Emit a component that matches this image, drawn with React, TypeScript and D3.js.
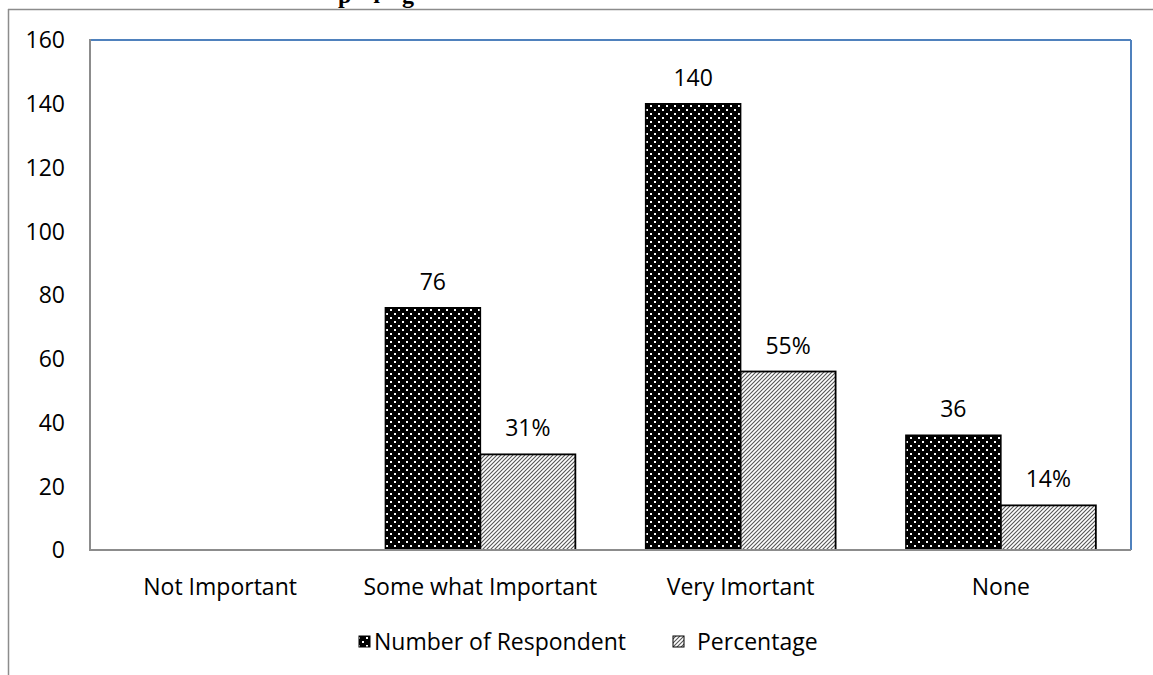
import React from "react";
import * as d3 from "d3";

const categories = ["Not Important", "Some what Important", "Very Imortant", "None"];
const respondents = [0, 76, 140, 36];
const respondentLabels = ["", "76", "140", "36"];
const percentValues = [0, 30, 56, 14];
const percentLabels = ["", "31%", "55%", "14%"];
const yTicks = [0, 20, 40, 60, 80, 100, 120, 140, 160];
const seriesNames = ["Number of Respondent", "Percentage"];

const W = 1153;
const H = 675;
const left = 90;
const right = 1131;
const top = 40;
const bottom = 550;
const FONT = "'Open Sans', 'Noto Sans', sans-serif";
const FS = 23;

export default function App() {
  const x0 = d3.scaleBand<string>().domain(categories).range([left, right]).paddingInner(0).paddingOuter(0);
  const x1 = d3
    .scaleBand<string>()
    .domain(seriesNames)
    .range([0, x0.bandwidth()])
    .paddingOuter(0.37)
    .paddingInner(0);
  const y = d3.scaleLinear().domain([0, 160]).range([bottom, top]);

  return (
    <svg
      width={W}
      height={H}
      style={{ position: "absolute", left: 0, top: 0, background: "#fff" }}
      fontFamily={FONT}
    >
      <defs>
        <pattern id="dots" width={8} height={8} patternUnits="userSpaceOnUse">
          <rect width={8} height={8} fill="#000" />
          <rect x={2} y={1} width={2} height={2} fill="#fff" />
          <rect x={6} y={5} width={2} height={2} fill="#fff" />
        </pattern>
        <pattern id="hatch" width={4} height={4} patternUnits="userSpaceOnUse">
          <rect width={4} height={4} fill="#fff" />
          <path d="M-1,5 L5,-1 M-1,1 L1,-1 M3,5 L5,3" stroke="#555" strokeWidth={1.1} />
        </pattern>
      </defs>

      {/* partially visible title */}
      <text
        x={338}
        y={3}
        fontFamily="'Liberation Serif', 'DejaVu Serif', serif"
        fontWeight="bold"
        fontSize={24}
        letterSpacing={22}
        fill="#000"
      >
        pig
      </text>

      {/* outer frame */}
      <line x1={8} y1={9.5} x2={W} y2={9.5} stroke="#8c8c8c" strokeWidth={1.5} />
      <line x1={8.5} y1={9} x2={8.5} y2={H} stroke="#8c8c8c" strokeWidth={1.5} />

      {/* plot area top/right border */}
      <line x1={left} y1={top} x2={right} y2={top} stroke="#4f81bd" strokeWidth={2} />
      <line x1={right} y1={top} x2={right} y2={bottom} stroke="#4f81bd" strokeWidth={2} />

      {/* y tick labels */}
      {yTicks.map((t) => (
        <text key={t} x={65} y={y(t)} dy="0.36em" textAnchor="end" fontSize={FS} fill="#000">
          {t}
        </text>
      ))}

      {/* bars */}
      {categories.map((c, i) => {
        const bx = x0(c)!;
        const xa = bx + x1(seriesNames[0])!;
        const xb = bx + x1(seriesNames[1])!;
        const bw = x1.bandwidth();
        return (
          <g key={c}>
            {respondents[i] > 0 && (
              <rect
                x={xa}
                y={y(respondents[i])}
                width={bw}
                height={bottom - y(respondents[i])}
                fill="url(#dots)"
                stroke="#000"
                strokeWidth={1.5}
              />
            )}
            {percentValues[i] > 0 && (
              <rect
                x={xb}
                y={y(percentValues[i])}
                width={bw}
                height={bottom - y(percentValues[i])}
                fill="url(#hatch)"
                stroke="#000"
                strokeWidth={1.8}
              />
            )}
            {respondentLabels[i] && (
              <text x={xa + bw / 2} y={y(respondents[i]) - 18} textAnchor="middle" fontSize={FS} fill="#000">
                {respondentLabels[i]}
              </text>
            )}
            {percentLabels[i] && (
              <text x={xb + bw / 2} y={y(percentValues[i]) - 18} textAnchor="middle" fontSize={FS} fill="#000">
                {percentLabels[i]}
              </text>
            )}
            <text x={bx + x0.bandwidth() / 2} y={595} textAnchor="middle" fontSize={FS} fill="#000">
              {c}
            </text>
          </g>
        );
      })}

      {/* axes lines */}
      <line x1={left} y1={top - 1} x2={left} y2={bottom} stroke="#8c8c8c" strokeWidth={2} />
      <line x1={left - 1} y1={bottom} x2={right} y2={bottom} stroke="#8c8c8c" strokeWidth={2} />

      {/* legend */}
      <g>
        <rect x={359} y={636} width={11} height={11} fill="url(#dots)" stroke="#000" strokeWidth={1} />
        <text x={374} y={650} fontSize={FS} fill="#000">
          {seriesNames[0]}
        </text>
        <rect x={673} y={636} width={11} height={11} fill="url(#hatch)" stroke="#000" strokeWidth={1} />
        <text x={697} y={650} fontSize={FS} fill="#000">
          {seriesNames[1]}
        </text>
      </g>
    </svg>
  );
}
